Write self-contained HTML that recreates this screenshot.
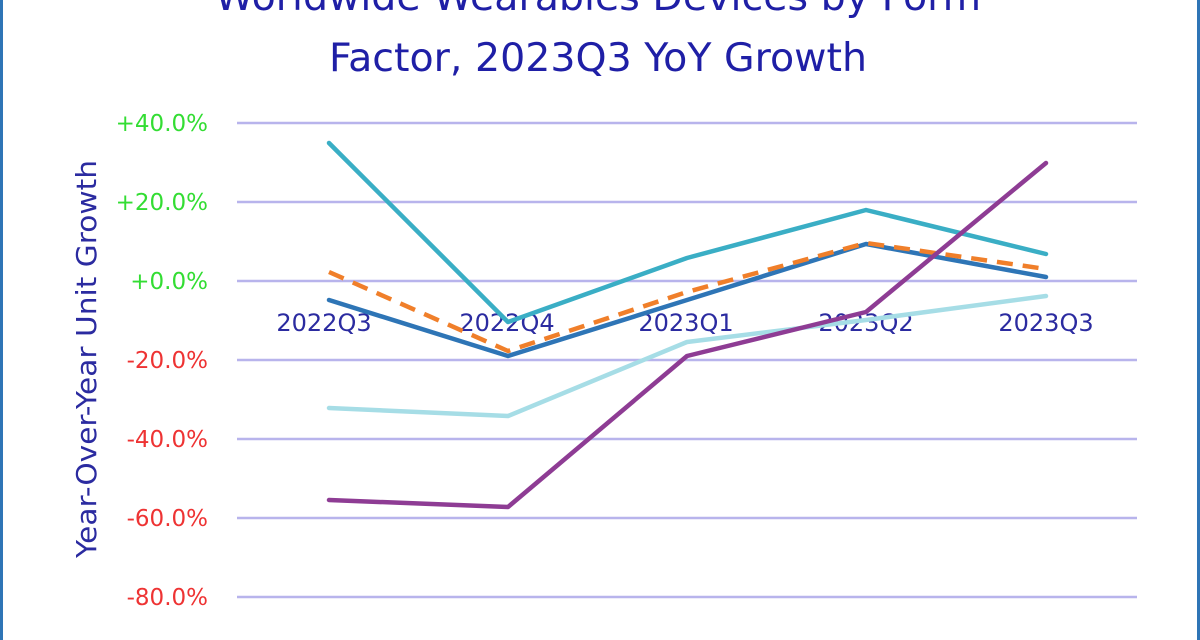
<!DOCTYPE html>
<html><head><meta charset="utf-8"><style>
html,body{margin:0;padding:0;background:#fff;}
svg{display:block;}
text{font-family:"DejaVu Sans","Liberation Sans",sans-serif;}
</style></head><body>
<svg width="1200" height="640" viewBox="0 0 1200 640" xmlns="http://www.w3.org/2000/svg">
<rect x="0" y="0" width="1200" height="640" fill="#fff"/>
<rect x="0" y="0" width="3" height="640" fill="#2e75b6"/>
<rect x="1197" y="0" width="3" height="640" fill="#2e75b6"/>
<g font-size="39.5" fill="#1f1fa6" text-anchor="middle">
<text x="598" y="10">Worldwide Wearables Devices by Form</text>
<text x="598" y="71">Factor, 2023Q3 YoY Growth</text>
</g>
<g stroke="#b8b4ec" stroke-width="2.5">
<line x1="237" x2="1137" y1="123" y2="123"/>
<line x1="237" x2="1137" y1="202" y2="202"/>
<line x1="237" x2="1137" y1="281" y2="281"/>
<line x1="237" x2="1137" y1="360" y2="360"/>
<line x1="237" x2="1137" y1="439" y2="439"/>
<line x1="237" x2="1137" y1="518" y2="518"/>
<line x1="237" x2="1137" y1="597" y2="597"/>
</g>
<g font-size="23" text-anchor="end">
<text x="208" y="131" fill="#33dd33">+40.0%</text>
<text x="208" y="210" fill="#33dd33">+20.0%</text>
<text x="208" y="289" fill="#33dd33">+0.0%</text>
<text x="208" y="368" fill="#ee3333">-20.0%</text>
<text x="208" y="447" fill="#ee3333">-40.0%</text>
<text x="208" y="526" fill="#ee3333">-60.0%</text>
<text x="208" y="605" fill="#ee3333">-80.0%</text>
</g>
<text transform="translate(96,359) rotate(-90)" font-size="28" fill="#2b2ba0" text-anchor="middle" textLength="398" lengthAdjust="spacingAndGlyphs">Year-Over-Year Unit Growth</text>
<g font-size="24" fill="#2b2ba0" text-anchor="middle">
<text x="324" y="331">2022Q3</text>
<text x="507" y="331">2022Q4</text>
<text x="686" y="331">2023Q1</text>
<text x="866" y="331">2023Q2</text>
<text x="1046" y="331">2023Q3</text>
</g>
<g fill="none" stroke-width="4.5" stroke-linejoin="round" stroke-linecap="round">
<polyline stroke="#a6dde6" points="329,408 508,416 687,342 866,320 1046,296"/>
<polyline stroke="#3aaec5" points="329,143 508,322 687,258 866,210 1046,254"/>
<polyline stroke="#2e75b6" points="329,300 508,356 687,300 866,244 1046,277"/>
<polyline stroke="#f07f2a" stroke-dasharray="16,10" stroke-linecap="butt" points="329,272 508,351 687,292 866,243 1046,269"/>
<polyline stroke="#8e3c94" points="329,500 508,507 687,356 866,312 1046,163"/>
</g>
</svg>
</body></html>
